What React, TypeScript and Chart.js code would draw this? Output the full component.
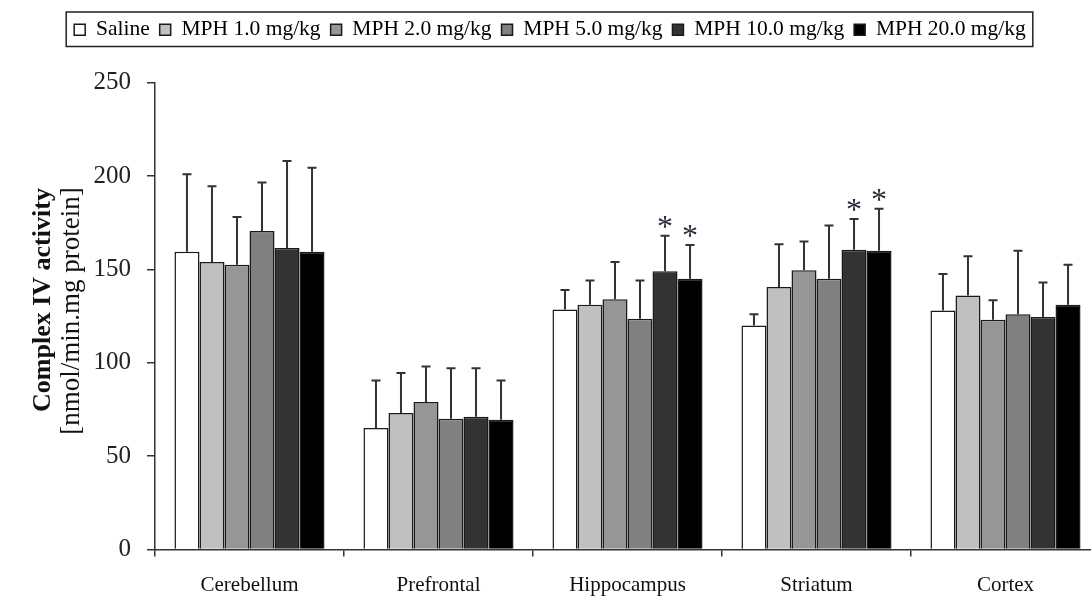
import React, { useEffect, useRef } from "react";
import { Chart, registerables } from "chart.js";

Chart.register(...registerables);

const categories = ["Cerebellum", "Prefrontal", "Hippocampus", "Striatum", "Cortex"];
const seriesNames = ["Saline", "MPH 1.0 mg/kg", "MPH 2.0 mg/kg", "MPH 5.0 mg/kg", "MPH 10.0 mg/kg", "MPH 20.0 mg/kg"];
const seriesColors = ["#ffffff", "#c0c0c0", "#969696", "#808080", "#333333", "#000000"];

const saline = [159.5, 65, 128.5, 120, 128];
const mph1 = [154, 73, 131, 140.5, 136];
const mph2 = [152.5, 79, 134, 149.5, 123];
const mph5 = [170.5, 70, 123.5, 145, 126];
const mph10 = [161.5, 71, 149, 160.5, 124.5];
const mph20 = [159.5, 69.5, 145, 160, 131];

const salineErr = [41.5, 25.5, 10.5, 6, 19.5];
const mph1Err = [40.5, 21.5, 13, 23, 21];
const mph2Err = [25.5, 19, 20, 15.5, 10.5];
const mph5Err = [26, 27, 20.5, 28.5, 34];
const mph10Err = [46.5, 26, 19, 16.5, 18.5];
const mph20Err = [45, 21, 18, 22.5, 21.5];

const salineSig = [false, false, false, false, false];
const mph1Sig = [false, false, false, false, false];
const mph2Sig = [false, false, false, false, false];
const mph5Sig = [false, false, false, false, false];
const mph10Sig = [false, false, true, true, false];
const mph20Sig = [false, false, true, true, false];

const yTicks = [0, 50, 100, 150, 200, 250];
const yTitle1 = "Complex IV activity";
const yTitle2 = "[nmol/min.mg protein]";

const allValues = [saline, mph1, mph2, mph5, mph10, mph20];
const allErrors = [salineErr, mph1Err, mph2Err, mph5Err, mph10Err, mph20Err];
const allSig = [salineSig, mph1Sig, mph2Sig, mph5Sig, mph10Sig, mph20Sig];

const FONT = "'Liberation Serif', 'Times New Roman', serif";

const errorBarPlugin = {
  id: "errorBars",
  afterDatasetsDraw(chart: any) {
    const ctx = chart.ctx;
    const yScale = chart.scales.y;
    ctx.save();
    chart.data.datasets.forEach((ds: any, i: number) => {
      const meta = chart.getDatasetMeta(i);
      meta.data.forEach((el: any, j: number) => {
        const v = ds.data[j];
        const e = ds.errors[j];
        const x = el.x;
        const yTop = yScale.getPixelForValue(v + e);
        ctx.strokeStyle = "#333333";
        ctx.lineWidth = 2;
        ctx.beginPath();
        ctx.moveTo(x, el.y);
        ctx.lineTo(x, yTop);
        ctx.moveTo(x - 4.5, yTop);
        ctx.lineTo(x + 4.5, yTop);
        ctx.stroke();
        if (ds.sig[j]) {
          ctx.fillStyle = "#2a2a3a";
          ctx.font = `32px ${FONT}`;
          ctx.textAlign = "center";
          ctx.textBaseline = "alphabetic";
          ctx.fillText("*", x, yTop + 1);
        }
      });
    });
    ctx.restore();
  },
};

const yTitlePlugin = {
  id: "yTitle",
  afterDraw(chart: any) {
    const ctx = chart.ctx;
    const area = chart.chartArea;
    const mid = (area.top + area.bottom) / 2;
    ctx.save();
    ctx.fillStyle = "#111111";
    ctx.textAlign = "center";
    ctx.textBaseline = "alphabetic";
    ctx.save();
    ctx.translate(50, mid - 16);
    ctx.rotate(-Math.PI / 2);
    ctx.font = `bold 26px ${FONT}`;
    ctx.fillText(yTitle1, 0, 0);
    ctx.restore();
    ctx.save();
    ctx.translate(79, mid - 5);
    ctx.rotate(-Math.PI / 2);
    ctx.font = `27px ${FONT}`;
    ctx.fillText(yTitle2, 0, 0);
    ctx.restore();
    ctx.restore();
  },
};

const legendBoxPlugin = {
  id: "legendBox",
  afterInit(chart: any) {
    const legend = chart.legend;
    if (legend && !legend.__patched) {
      const orig = legend.fit.bind(legend);
      legend.fit = function () {
        orig();
        this.height = 73.7;
      };
      legend.__patched = true;
    }
  },
  afterDraw(chart: any) {
    const legend = chart.legend;
    if (!legend || !legend.legendHitBoxes || !legend.legendHitBoxes.length) return;
    const boxes = legend.legendHitBoxes;
    let minX = Infinity, maxX = -Infinity, minY = Infinity, maxY = -Infinity;
    boxes.forEach((b: any) => {
      minX = Math.min(minX, b.left);
      maxX = Math.max(maxX, b.left + b.width);
      minY = Math.min(minY, b.top);
      maxY = Math.max(maxY, b.top + b.height);
    });
    const ctx = chart.ctx;
    ctx.save();
    ctx.strokeStyle = "#222222";
    ctx.lineWidth = 1.5;
    ctx.strokeRect(minX - 8, minY - 7, maxX - minX + 15, maxY - minY + 13);
    ctx.restore();
  },
};

export default function App() {
  const canvasRef = useRef<HTMLCanvasElement>(null);

  useEffect(() => {
    document.body.style.margin = "0";
    const canvas = canvasRef.current;
    if (!canvas) return;
    const chart = new Chart(canvas, {
      type: "bar",
      data: {
        labels: categories,
        datasets: seriesNames.map((name, i) => ({
          label: name,
          data: allValues[i],
          errors: allErrors[i],
          sig: allSig[i],
          backgroundColor: seriesColors[i],
          borderColor: "#1a1a1a",
          borderWidth: 1.5,
          categoryPercentage: 0.794,
          barPercentage: 1.0,
        })) as any,
      },
      options: {
        animation: false,
        responsive: false,
        devicePixelRatio: 1,
        layout: { padding: { top: 9, left: 0, right: 0, bottom: 0 } },
        plugins: {
          legend: {
            display: true,
            position: "top",
            align: "center",
            labels: {
              boxWidth: 11,
              boxHeight: 11,
              padding: 10,
              color: "#000000",
              font: { family: FONT, size: 21.5 },
            },
          },
          tooltip: { enabled: false },
          title: { display: false },
        },
        scales: {
          x: {
            type: "category",
            offset: true,
            grid: {
              display: true,
              offset: true,
              drawOnChartArea: false,
              drawTicks: true,
              tickLength: 7,
              color: "#333333",
              lineWidth: 1.5,
            },
            border: { display: true, color: "#333333", width: 1.5 },
            ticks: {
              color: "#111111",
              padding: 16,
              font: { family: FONT, size: 21 },
              maxRotation: 0,
            },
            afterFit: (s: any) => {
              s.height = 49.6;
            },
          },
          y: {
            min: 0,
            max: 250,
            afterBuildTicks: (s: any) => {
              s.ticks = yTicks.map((v) => ({ value: v }));
            },
            grid: {
              display: true,
              drawOnChartArea: false,
              drawTicks: true,
              tickLength: 8,
              color: "#333333",
              lineWidth: 1.5,
            },
            border: { display: true, color: "#333333", width: 1.5 },
            ticks: {
              color: "#222222",
              padding: 16,
              font: { family: FONT, size: 25 },
            },
            afterFit: (s: any) => {
              s.width = 155;
            },
          },
        },
      },
      plugins: [errorBarPlugin, yTitlePlugin, legendBoxPlugin],
    });
    return () => chart.destroy();
  }, []);

  return (
    <div style={{ width: 1091, height: 599, overflow: "hidden", position: "relative", background: "#ffffff" }}>
      <canvas ref={canvasRef} width={1100} height={599} style={{ display: "block" }} />
    </div>
  );
}
